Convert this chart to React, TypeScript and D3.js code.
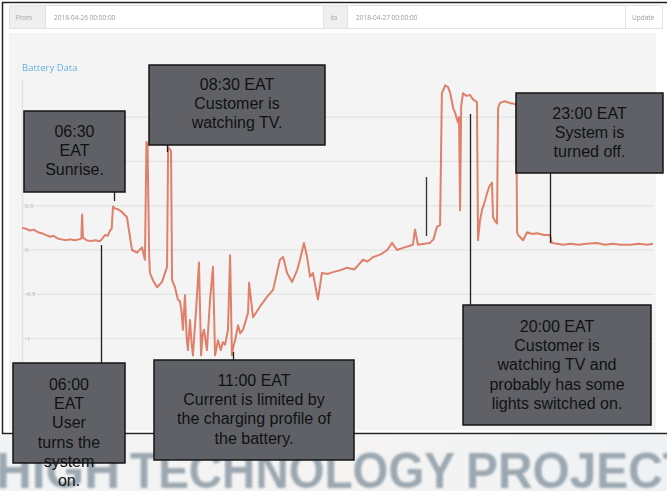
import * as d3 from "d3";

// battery readings, hour of day in UTC (chart runs 00:00 -> 24:00 UTC)
const hoursUtc = [
  0.0, 0.15, 0.3, 0.45, 0.6, 0.75, 0.9, 1.06, 1.2, 1.35, 1.5, 1.65, 1.82, 2.0, 2.15, 2.25, 2.28, 2.31,
  2.45, 2.6, 2.77, 2.96, 3.05, 3.15, 3.25, 3.34, 3.4, 3.45, 3.52, 3.64, 3.75, 3.98, 4.17, 4.36, 4.55,
  4.66, 4.72, 4.76, 4.82, 4.85, 4.98, 5.12, 5.31, 5.5, 5.54, 5.6, 5.65, 5.69, 5.8, 5.91, 5.99, 6.05, 6.1,
  6.18, 6.24, 6.29, 6.37, 6.43, 6.48, 6.6, 6.71, 6.79, 6.85, 6.9, 7.01, 7.13, 7.24, 7.32, 7.38, 7.43, 7.54,
  7.62, 7.7, 7.81, 7.89, 7.96, 8.02, 8.08, 8.19, 8.27, 8.38, 8.57, 8.61, 8.76, 9.02, 9.29, 9.52, 9.78,
  9.9, 10.05, 10.24, 10.43, 10.54, 10.69, 10.81, 10.92, 11.03, 11.22, 11.37, 11.6, 11.79, 12.05, 12.32,
  12.6, 12.93, 13.1, 13.31, 13.6, 13.85, 14.03, 14.22, 14.5, 14.82, 14.9, 15.01, 15.25, 15.47, 15.6,
  15.73, 15.85, 15.92, 16.05, 16.15, 16.23, 16.35, 16.42, 16.53, 16.57, 16.61, 16.65, 16.72, 16.85,
  16.99, 17.1, 17.25, 17.29, 17.36, 17.44, 17.55, 17.63, 17.72, 17.82, 17.86, 17.95, 18.01, 18.05,
  18.12, 18.3, 18.5, 18.65, 18.74, 18.77, 18.81, 19.0, 19.15, 19.35, 19.53, 19.8, 20.02, 20.09, 20.3,
  20.51, 20.8, 21.1, 21.4, 21.8, 22.1, 22.4, 22.7, 23.05, 23.4, 23.7, 23.92,
];

const batteryKw = [
  0.25, 0.24, 0.22, 0.23, 0.2, 0.19, 0.17, 0.15, 0.16, 0.13, 0.12, 0.11, 0.12, 0.11, 0.12, 0.13, 0.4, 0.14,
  0.11, 0.1, 0.11, 0.1, 0.13, 0.17, 0.16, 0.22, 0.24, 0.49, 0.47, 0.46, 0.44, 0.37, 0.0, -0.03, 0.03,
  -0.11, 1.22, 1.2, -0.05, -0.26, -0.35, -0.42, -0.36, -0.19, 1.16, 1.14, 1.12, -0.34, -0.42, -0.56, -0.58, -0.7, -0.9,
  -0.51, -0.98, -1.13, -0.79, -1.05, -1.19, -0.68, -0.14, -1.19, -0.95, -0.9, -1.13, -0.56, -0.19, -1.19, -1.1, -1.02, -1.13,
  -1.04, -1.07, -0.9, -0.06, -1.19, -1.08, -1.02, -0.85, -0.94, -0.9, -0.71, -0.37, -0.76, -0.64, -0.53, -0.45, -0.11,
  -0.08, -0.26, -0.36, -0.23, -0.11, 0.08, -0.08, -0.3, -0.26, -0.56, -0.26, -0.27, -0.25, -0.23, -0.2,
  -0.22, -0.11, -0.13, -0.08, -0.05, 0.0, 0.08, 0.0, 0.03, 0.06, 0.23, 0.06, 0.07, 0.08, 0.12,
  0.26, 0.28, 1.77, 1.86, 1.84, 1.78, 1.6, 1.55, 1.44, 1.5, 0.45, 1.62, 1.77, 1.74,
  1.75, 1.7, 1.67, 0.11, 0.32, 0.45, 0.55, 0.64, 0.72, 0.76, 0.37, 0.32, 0.3, 1.6,
  1.66, 1.68, 1.66, 1.65, 1.64, 0.2, 0.17, 0.11, 0.2, 0.18, 0.19, 0.17, 0.17, 0.08, 0.07,
  0.06, 0.07, 0.06, 0.07, 0.08, 0.06, 0.07, 0.06, 0.06, 0.07, 0.06, 0.07,
];

const yTicks = [-1, -0.5, 0, 0.5, 1, 1.5];

// annotation times (EAT = UTC+3) and their text
const noteTimesEat = [6.5, 8.5, 23, 20, 6, 11];
const noteTexts = [
  ["06:30", "EAT", "Sunrise."],
  ["08:30 EAT", "Customer is", "watching TV."],
  ["23:00 EAT", "System is", "turned off."],
  ["20:00 EAT", "Customer is", "watching TV and", "probably has some", "lights switched on."],
  ["06:00", "EAT", "User", "turns the", "system", "on."],
  ["11:00 EAT", "Current is limited by", "the charging profile of", "the battery."],
];

// layout of the boxes: x0, y0, x1, y1, first baseline, leader y from/to
const noteBoxes = [
  { x0: 24, y0: 111, x1: 125, y1: 192, base: 137, l0: 192, l1: 201 },
  { x0: 149, y0: 65, x1: 325, y1: 145, base: 90, l0: 145, l1: 152 },
  { x0: 516, y0: 93, x1: 663, y1: 173, base: 119, l0: 173, l1: 243 },
  { x0: 463, y0: 305, x1: 651, y1: 425, base: 332, l0: 114, l1: 305 },
  { x0: 13, y0: 363, x1: 125, y1: 463, base: 390, l0: 245, l1: 363 },
  { x0: 154, y0: 360, x1: 354, y1: 460, base: 386, l0: 352, l1: 360 },
];

const W = 667;
const H = 491;
const uiFont = "'Open Sans', 'DejaVu Sans', sans-serif";
const noteFont = "'Liberation Sans', Arial, sans-serif";

export default function App() {
  const x = d3.scaleLinear().domain([0, 24]).range([22, 655]);
  const y = d3.scaleLinear().domain([-1.9, 1.9]).range([418.3, 81.7]);

  const line = d3
    .line<number>()
    .x((_, i) => x(hoursUtc[i]))
    .y((d) => y(d));

  return (
    <svg
      width={W}
      height={H}
      style={{ position: "absolute", left: 0, top: 0, background: "#fff" }}
    >
      <defs>
        <filter id="soft" x="-5%" y="-5%" width="110%" height="110%">
          <feGaussianBlur stdDeviation="0.45" />
        </filter>
        <filter id="softer">
          <feGaussianBlur stdDeviation="0.9" />
        </filter>
        <linearGradient id="banner" x1="0" y1="0" x2="1" y2="0">
          <stop offset="0" stopColor="#f1f3f4" />
          <stop offset="0.5" stopColor="#f6f4f3" />
          <stop offset="1" stopColor="#eef2f4" />
        </linearGradient>
      </defs>

      {/* banner under the screenshot */}
      <rect x={0} y={435} width={W} height={H - 435} fill="url(#banner)" />
      <g
        fontFamily={noteFont}
        fontWeight="bold"
        fontSize={50}
        fill="#93a0aa"
        filter="url(#softer)"
        opacity={0.9}
      >
        <text x={-4} y={488} textLength={124} lengthAdjust="spacingAndGlyphs">HIGH</text>
        <text x={130} y={488} textLength={325} lengthAdjust="spacingAndGlyphs">TECHNOLOGY</text>
        <text x={466} y={488} textLength={226} lengthAdjust="spacingAndGlyphs">PROJECT</text>
      </g>

      {/* screenshot frame */}
      <rect x={2.5} y={2.5} width={W} height={431} fill="#fff" stroke="#222" strokeWidth={1.5} />

      {/* toolbar */}
      <g fontFamily={uiFont} fontSize={6.5} fill="#9a9a9a" filter="url(#soft)">
        <rect x={9.5} y={5.5} width={36} height={23} fill="#efefef" stroke="#dfe3e8" />
        <text x={16} y={19.5}>From</text>
        <rect x={45.5} y={5.5} width={278} height={23} fill="#fff" stroke="#dfe3e8" />
        <text x={54} y={19.5}>2018-04-26 00:00:00</text>
        <rect x={323.5} y={5.5} width={24} height={23} fill="#efefef" stroke="#dfe3e8" />
        <text x={331} y={19.5}>to</text>
        <rect x={347.5} y={5.5} width={278} height={23} fill="#fff" stroke="#dfe3e8" />
        <text x={356} y={19.5}>2018-04-27 00:00:00</text>
        <rect x={625.5} y={5.5} width={37} height={23} fill="#fff" stroke="#dfe3e8" />
        <text x={632} y={19.5}>Update</text>
      </g>

      {/* chart panel */}
      <rect x={9} y={33} width={647} height={397} fill="#f4f4f4" />
      <text
        x={22}
        y={71}
        fontFamily={uiFont}
        fontSize={9.5}
        fill="#62b3e6"
        filter="url(#soft)"
      >
        Battery Data
      </text>

      <g filter="url(#soft)">
        <line x1={22.5} x2={22.5} y1={79} y2={428} stroke="#e2e2e2" strokeWidth={1.5} />
        {yTicks.map((t) => (
          <g key={t}>
            <line x1={22} x2={654} y1={y(t)} y2={y(t)} stroke="#e6e6e6" strokeWidth={1.5} />
            <text x={25} y={y(t) + 2} fontFamily={uiFont} fontSize={6} fill="#b5b5b5">
              {t}
            </text>
          </g>
        ))}
      </g>

      <path
        d={line(batteryKw) ?? ""}
        fill="none"
        stroke="#d85a3c"
        strokeOpacity={0.75}
        strokeWidth={2}
        strokeLinejoin="round"
        filter="url(#soft)"
      />

      {/* leader lines */}
      <g stroke="#1e1e1e" strokeWidth={1.3}>
        {noteBoxes.map((b, i) => {
          const lx = Math.round(x(noteTimesEat[i] - 3)) + 0.5;
          return <line key={i} x1={lx} x2={lx} y1={b.l0} y2={b.l1} />;
        })}
        <line x1={426.5} x2={426.5} y1={177} y2={236} stroke="#333" />
      </g>

      {/* annotation boxes */}
      {noteBoxes.map((b, i) => (
        <g key={i}>
          <rect
            x={b.x0}
            y={b.y0}
            width={b.x1 - b.x0}
            height={b.y1 - b.y0}
            fill="#5f6166"
            stroke="#151515"
            strokeWidth={1.5}
          />
          <text
            fontFamily={noteFont}
            fontSize={16}
            fill="#111"
            textAnchor="middle"
          >
            {noteTexts[i].map((s, j) => (
              <tspan key={j} x={(b.x0 + b.x1) / 2} y={b.base + j * 19.2}>
                {s}
              </tspan>
            ))}
          </text>
        </g>
      ))}
    </svg>
  );
}
